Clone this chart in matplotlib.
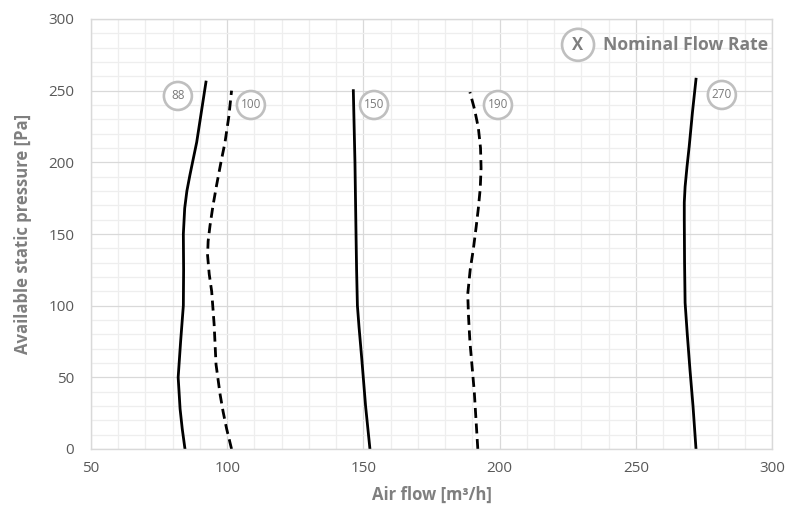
import matplotlib
matplotlib.use("Agg")
import matplotlib.pyplot as plt
from matplotlib.patches import Ellipse
from matplotlib.ticker import MultipleLocator

plt.rcParams['font.family'] = ['Open Sans', 'DejaVu Sans']

# ---- data ----
p88 = [0, 14, 28, 50, 75, 100, 125, 150, 168, 180, 191, 203, 214, 235, 256]
q88 = [84.5, 83.5, 82.7, 82.0, 82.9, 83.9, 84.0, 83.9, 84.4, 85.2, 86.3, 87.6, 88.8, 90.5, 92.2]

p100 = [0, 14, 26, 38, 59, 87, 110, 122, 135, 145, 156, 170, 184, 200, 214, 232, 250]
q100 = [101.6, 99.8, 98.5, 97.4, 95.9, 95.2, 94.3, 93.4, 92.8, 93.0, 93.7, 94.8, 96.1, 97.7, 99.2, 100.6, 101.6]

p150 = [0, 30, 63, 85, 100, 125, 149, 200, 250]
q150 = [152.4, 150.8, 149.4, 148.4, 147.8, 147.5, 147.3, 146.9, 146.3]

p190 = [0, 40, 75, 92, 108, 125, 140, 155, 168, 182, 196, 210, 224, 237, 249]
q190 = [192.0, 190.7, 189.1, 188.6, 188.3, 189.2, 190.4, 191.4, 192.2, 192.9, 193.2, 193.0, 192.2, 190.8, 189.1]

p270 = [0, 30, 55, 80, 102, 130, 160, 172, 183, 197, 211, 235, 258]
q270 = [272.1, 271.0, 269.9, 268.9, 268.1, 267.9, 267.8, 267.8, 268.1, 268.8, 269.6, 270.8, 272.1]

series = [
    (q88, p88, '-'),
    (q100, p100, '--'),
    (q150, p150, '-'),
    (q190, p190, '--'),
    (q270, p270, '-'),
]

badge_labels = ['88', '100', '150', '190', '270']
badge_x = [81.9, 108.7, 153.9, 199.4, 281.6]
badge_y = [246.3, 240, 240, 240, 247]

x_ticks = [50, 100, 150, 200, 250, 300]
y_ticks = [0, 50, 100, 150, 200, 250, 300]

fig = plt.figure(figsize=(7.98, 5.08), dpi=100)
ax = fig.add_axes([91/798, 59/508, (772-91)/798, (449-19)/508])
ax.set_xlim(50, 300)
ax.set_ylim(0, 300)
ax.set_xticks(x_ticks)
ax.set_yticks(y_ticks)
ax.xaxis.set_minor_locator(MultipleLocator(10))
ax.yaxis.set_minor_locator(MultipleLocator(10))
ax.grid(which='major', color='#d9d9d9', lw=0.9)
ax.grid(which='minor', color='#eeeeee', lw=0.9)
ax.set_axisbelow(True)
for s in ax.spines.values():
    s.set_color('#d9d9d9')
    s.set_linewidth(1.0)
ax.tick_params(which='both', length=0, colors='#595959', labelsize=11)
ax.tick_params(axis='x', pad=9)
ax.tick_params(axis='y', pad=12)

for q, p, ls in series:
    if ls == '--':
        ax.plot(q, p, color='black', lw=2.0, linestyle=(0, (3.6, 2.0)),
                dash_capstyle='butt', solid_joinstyle='round')
    else:
        ax.plot(q, p, color='black', lw=2.0, solid_joinstyle='round')

# badges: circles in pixel-equal aspect
xpx = (772-91)/250.0
ypx = (449-19)/300.0
r_px = 14
for lab, bx, by in zip(badge_labels, badge_x, badge_y):
    e = Ellipse((bx, by), 2*r_px/xpx, 2*r_px/ypx, facecolor='white',
                edgecolor='#bfbfbf', lw=1.9, zorder=5)
    ax.add_patch(e)
    ax.text(bx, by, lab, ha='center', va='center', fontsize=8.5,
            color='#7a7a7a', zorder=6)

# legend badge
lx, ly = 228.8, 282
e = Ellipse((lx, ly), 2*16/xpx, 2*16/ypx, facecolor='white',
            edgecolor='#bfbfbf', lw=1.9, zorder=5)
ax.add_patch(e)
ax.text(lx, ly, 'X', ha='center', va='center', fontsize=12, fontweight='bold',
        color='#7f7f7f', zorder=6)
ax.text(lx + 9.0, ly, 'Nominal Flow Rate', ha='left', va='center', fontsize=12.6,
        fontweight='bold', color='#7f7f7f', zorder=6)

ax.set_xlabel('Air flow [m³/h]', fontsize=12, fontweight='bold', color='#7f7f7f', labelpad=7)
ax.set_ylabel('Available static pressure [Pa]', fontsize=12, fontweight='bold', color='#7f7f7f', labelpad=12)

fig.savefig('out.png', dpi=100)
